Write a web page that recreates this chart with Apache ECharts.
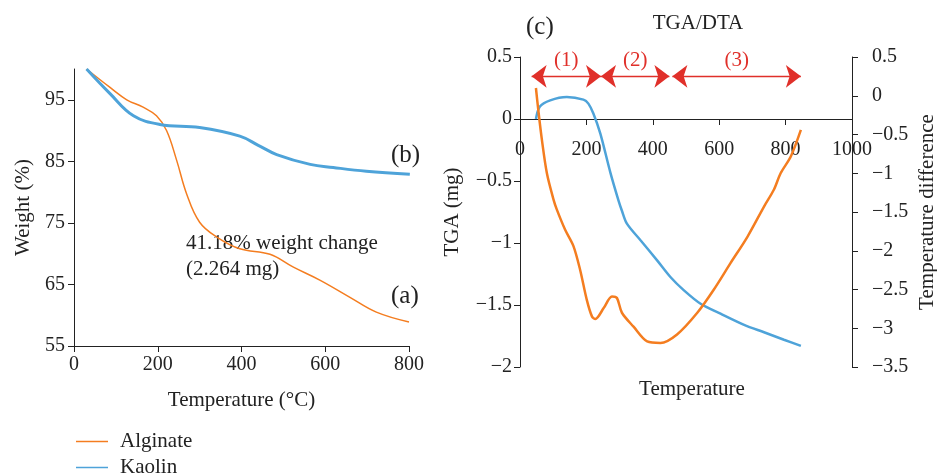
<!DOCTYPE html>
<html>
<head>
<meta charset="utf-8">
<script src="https://cdn.jsdelivr.net/npm/echarts@6/dist/echarts.min.js"></script>
<style>
  html, body { margin: 0; padding: 0; background: #fff; }
  #chart { width: 937px; height: 476px; }
</style>
</head>
<body>
<div id="chart"></div>
<script>
// left panel: weight (%) vs temperature
let alginate = [
  [30, 100], [86, 97.0], [126, 95.0], [165, 93.8], [197, 92.4], [221, 90.0],
  [245, 85.2], [269, 79.7], [300, 75.1], [341, 72.7], [396, 70.8], [468, 69.9],
  [524, 67.8], [587, 65.7], [659, 62.9], [722, 60.5], [800, 58.9]
];
let kaolin = [
  [30, 100], [86, 96.0], [142, 92.4], [205, 91.0], [300, 90.5], [396, 89.1],
  [440, 87.6], [484, 86.1], [564, 84.5], [619, 84.0], [698, 83.4], [802, 82.9]
];
let leftTicks = [55, 65, 75, 85, 95];

// right panel: TGA (mg) and temperature difference
let tga = [
  [48, 0], [60, 0.10], [91, 0.15], [141, 0.177], [191, 0.156], [206, 0.124],
  [221, 0.044], [242, -0.118], [272, -0.43], [297, -0.66], [307, -0.74],
  [322, -0.844], [363, -0.978], [413, -1.14], [453, -1.274], [493, -1.38],
  [544, -1.49], [604, -1.57], [675, -1.66], [735, -1.72], [795, -1.78], [846, -1.83]
];
let dta = [
  [48, 0.10], [55, -0.18], [66, -0.57], [81, -1.0], [101, -1.34], [111, -1.47],
  [136, -1.73], [161, -1.94], [181, -2.245], [201, -2.63], [217, -2.85],
  [227, -2.88], [252, -2.74], [277, -2.59], [292, -2.61], [307, -2.80],
  [342, -2.98], [383, -3.17], [423, -3.19], [473, -3.08], [534, -2.80],
  [584, -2.50], [634, -2.16], [685, -1.82], [735, -1.43], [765, -1.21],
  [785, -1.0], [816, -0.78], [846, -0.44]
];
// stage arrows (x ranges) at TGA height
let stages = [
  { name: "(1)", from: 35, to: 244 },
  { name: "(2)", from: 244, to: 450 },
  { name: "(3)", from: 459, to: 846 }
];
let arrowLevel = 0.344;

let orange = "#f47d20";
let blue = "#4ea3d9";
let red = "#e0302a";
let font = "Liberation Serif";
let ink = "#222";

let myChart = echarts.init(document.getElementById("chart"));

const minus = (v) => String(v).replace("-", "\u2212");

// text helper for the free labels
const note = (x, y, text, size, align) => ({
  type: "text", x: x, y: y,
  style: { text: text, font: size + "px " + font, fill: ink, align: align || "left", verticalAlign: "middle" }
});

myChart.setOption({
  animation: false,
  textStyle: { fontFamily: font, color: ink },
  legend: {
    data: ["Alginate", "Kaolin"],
    orient: "vertical",
    left: 76,
    top: 431,
    height: 60,
    padding: 0,
    icon: "rect",
    itemWidth: 32,
    itemHeight: 1.5,
    itemGap: 5,
    textStyle: { fontFamily: font, fontSize: 21, lineHeight: 21, color: ink, padding: [0, 0, 0, 7] }
  },
  grid: [
    { left: 74, right: 528, top: 69, bottom: 130, outerBoundsMode: "none" },
    { left: 520, right: 85, top: 57, bottom: 109, outerBoundsMode: "none" }
  ],
  xAxis: [
    {
      gridIndex: 0, type: "value", min: 0, max: 800, interval: 200,
      name: "Temperature (°C)", nameLocation: "middle", nameGap: 44,
      nameTextStyle: { fontSize: 21, color: ink },
      axisLine: { lineStyle: { color: ink } },
      axisTick: { length: 6, lineStyle: { color: ink } },
      axisLabel: { fontSize: 20, color: ink, margin: 9 },
      splitLine: { show: false }
    },
    {
      // x axis drawn at TGA = 0 (grid bottom is -2, 62px per 0.5 step)
      gridIndex: 1, type: "value", min: 0, max: 1000, interval: 200,
      position: "bottom", offset: -248,
      axisLine: { onZero: false, lineStyle: { color: ink } },
      axisTick: { length: 6, lineStyle: { color: ink } },
      axisLabel: { fontSize: 20, color: ink, margin: 21, formatter: (v) => String(v) },
      splitLine: { show: false }
    }
  ],
  yAxis: [
    {
      gridIndex: 0, type: "value", min: 55, max: 100,
      name: "Weight (%)", nameLocation: "middle", nameGap: 40,
      nameTextStyle: { fontSize: 21, color: ink },
      axisLine: { show: true, lineStyle: { color: ink } },
      axisTick: { show: true, length: 6, customValues: leftTicks, lineStyle: { color: ink } },
      axisLabel: { fontSize: 20, color: ink, customValues: leftTicks, margin: 9 },
      splitLine: { show: false }
    },
    {
      gridIndex: 1, type: "value", min: -2, max: 0.5, interval: 0.5,
      name: "TGA (mg)", nameLocation: "middle", nameGap: 57,
      nameTextStyle: { fontSize: 21, color: ink },
      axisLine: { show: true, lineStyle: { color: ink } },
      axisTick: { show: true, length: 6, lineStyle: { color: ink } },
      axisLabel: { fontSize: 20, color: ink, margin: 8, formatter: minus },
      splitLine: { show: false }
    },
    {
      gridIndex: 1, type: "value", position: "right", min: -3.5, max: 0.5, interval: 0.5,
      name: "Temperature difference", nameLocation: "middle", nameGap: 65,
      nameRotate: 90,
      nameTextStyle: { fontSize: 21, color: ink },
      axisLine: { show: true, lineStyle: { color: ink } },
      axisTick: { show: true, length: 6, lineStyle: { color: ink } },
      axisLabel: { fontSize: 20, color: ink, margin: 20, formatter: minus },
      splitLine: { show: false }
    }
  ],
  series: [
    {
      name: "Alginate", type: "line", xAxisIndex: 0, yAxisIndex: 0,
      data: alginate, smooth: 0.4, symbol: "none",
      lineStyle: { color: orange, width: 1.5 }, itemStyle: { color: orange }
    },
    {
      name: "Kaolin", type: "line", xAxisIndex: 0, yAxisIndex: 0,
      data: kaolin, smooth: 0.4, symbol: "none",
      lineStyle: { color: blue, width: 3 }, itemStyle: { color: blue }
    },
    {
      name: "TGA", type: "line", xAxisIndex: 1, yAxisIndex: 1,
      data: tga, smooth: 0.3, symbol: "none",
      lineStyle: { color: blue, width: 2.5 },
      markLine: {
        silent: true,
        symbol: ["arrow", "arrow"],
        symbolSize: [17, 15],
        lineStyle: { color: red, width: 1.4, type: "solid" },
        label: { show: true, position: "middle", color: red, fontSize: 21, fontFamily: font, distance: 5 },
        data: stages.map((s) => [
          { coord: [s.from, arrowLevel], name: s.name },
          { coord: [s.to, arrowLevel] }
        ])
      }
    },
    {
      name: "DTA", type: "line", xAxisIndex: 1, yAxisIndex: 2,
      data: dta, smooth: 0.3, symbol: "none",
      lineStyle: { color: orange, width: 2.5 }
    }
  ],
  graphic: [
    note(186, 243, "41.18% weight change", 21),
    note(186, 269, "(2.264 mg)", 21),
    note(391, 155, "(b)", 25),
    note(391, 296, "(a)", 25),
    note(526, 27, "(c)", 25),
    note(698, 23, "TGA/DTA", 21, "center"),
    note(692, 389, "Temperature", 21, "center")
  ]
});
</script>
</body>
</html>
